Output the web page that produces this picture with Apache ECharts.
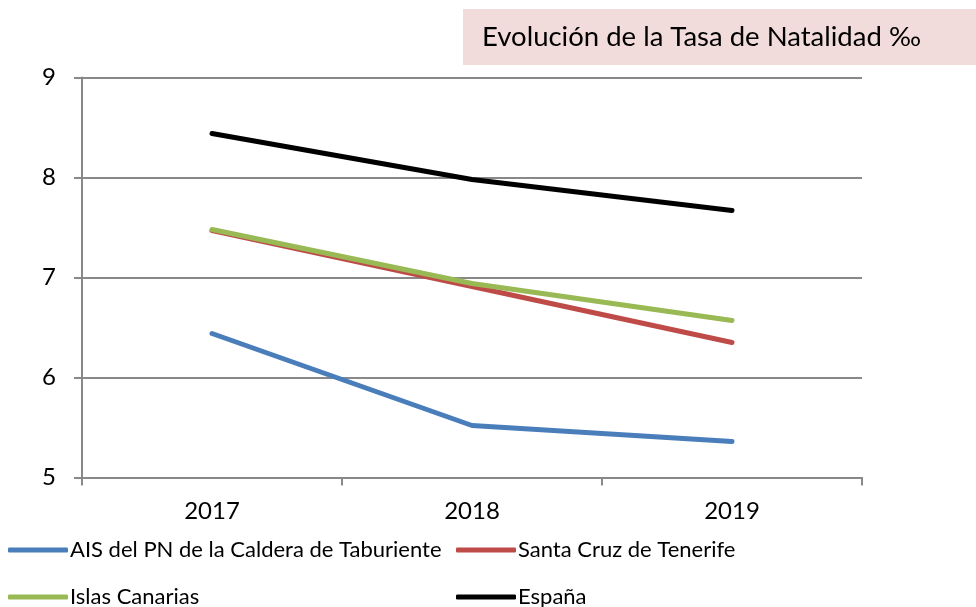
<!DOCTYPE html>
<html>
<head>
<meta charset="utf-8">
<script src="https://cdn.jsdelivr.net/npm/echarts@6/dist/echarts.min.js"></script>
<style>
  html, body { margin: 0; padding: 0; background: #fff; }
  #chart { width: 976px; height: 607px; }
</style>
</head>
<body>
<div id="chart"></div>
<script>
// data
var years = ["2017", "2018", "2019"];
var ais = [6.44, 5.52, 5.36];
var santaCruz = [7.47, 6.91, 6.35];
var canarias = [7.48, 6.94, 6.57];
var espana = [8.44, 7.98, 7.67];
var yTicks = [5, 6, 7, 8, 9];
var names = ["AIS del PN de la Caldera de Taburiente", "Santa Cruz de Tenerife", "Islas Canarias", "España"];

var FONT = "Lato";
var chart = echarts.init(document.getElementById("chart"));

function line(name, data, color) {
  return {
    name: name,
    type: "line",
    data: data,
    symbol: "none",
    lineStyle: { width: 5, color: color, cap: "round", join: "round" },
    itemStyle: { color: color },
    animation: false
  };
}

function legendAt(name, left, top) {
  return {
    left: left,
    top: top,
    padding: 0,
    itemWidth: 60,
    itemHeight: 5,
    icon: "roundRect",
    data: [name],
    textStyle: { fontSize: 22, fontFamily: FONT, color: "#000", padding: [0, 0, 0, -3] }
  };
}

chart.setOption({
  textStyle: { fontFamily: FONT },
  graphic: [
    {
      type: "rect",
      shape: { x: 463, y: 9, width: 513, height: 56 },
      style: { fill: "#f2dcdb" },
      z: -1
    }
  ],
  title: {
    text: "Evolución de la Tasa de Natalidad ‰",
    left: 482,
    top: 23,
    padding: 0,
    textStyle: { fontFamily: FONT, fontSize: 27.5, fontWeight: "normal", color: "#000" }
  },
  grid: { left: 82, right: 114, top: 77.5, bottom: 129.5 },
  xAxis: {
    type: "category",
    data: years,
    boundaryGap: true,
    axisLine: { lineStyle: { color: "#888", width: 2 } },
    axisTick: { show: true, length: 8, lineStyle: { color: "#888", width: 2 } },
    axisLabel: { color: "#000", fontSize: 24, fontFamily: FONT, margin: 22 }
  },
  yAxis: {
    type: "value",
    min: yTicks[0],
    max: yTicks[yTicks.length - 1],
    interval: 1,
    axisLine: { show: true, lineStyle: { color: "#888", width: 2 } },
    axisTick: { show: true, length: 8, lineStyle: { color: "#888", width: 2 } },
    axisLabel: { color: "#000", fontSize: 24, fontFamily: FONT, margin: 26 },
    splitLine: { lineStyle: { color: "#888", width: 2 } }
  },
  legend: [
    legendAt(names[0], 8, 539),
    legendAt(names[1], 456, 539),
    legendAt(names[2], 8, 586),
    legendAt(names[3], 456, 586)
  ],
  series: [
    line(names[0], ais, "#4a7ebb"),
    line(names[1], santaCruz, "#be4b48"),
    line(names[2], canarias, "#98b954"),
    line(names[3], espana, "#000000")
  ]
});
</script>
</body>
</html>
